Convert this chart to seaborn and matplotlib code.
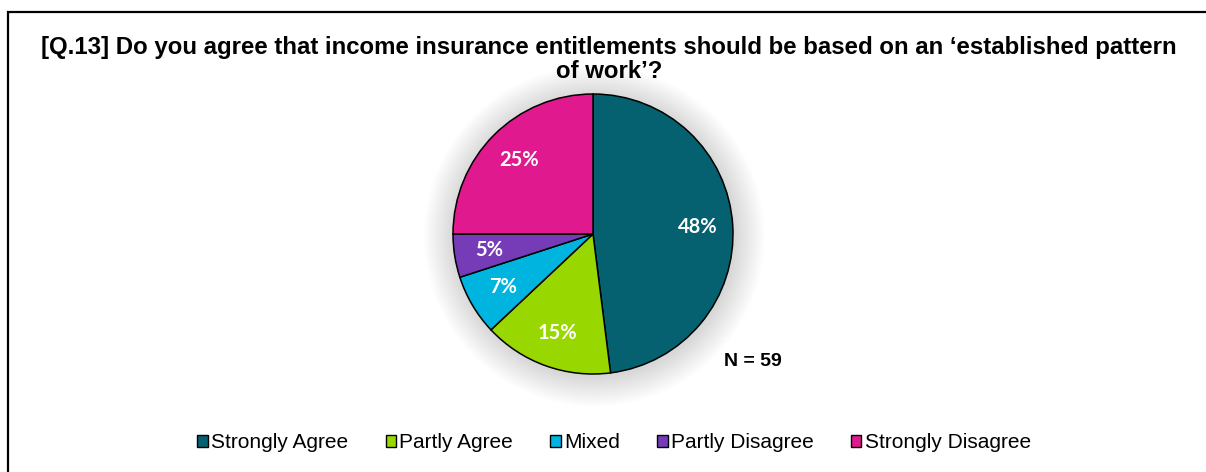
import matplotlib
matplotlib.use("Agg")
import matplotlib.pyplot as plt
from matplotlib.patches import Circle, Rectangle, Patch
import seaborn as sns

# Survey responses (percent of respondents)
categories = ["Strongly Agree", "Partly Agree", "Mixed", "Partly Disagree", "Strongly Disagree"]
shares = [48, 15, 7, 5, 25]
colors = ["#05606F", "#99D700", "#00B4E0", "#763CB8", "#E0198F"]
title = "[Q.13] Do you agree that income insurance entitlements should be based on an \u2018established pattern\nof work\u2019?"
sample_note = "N = 59"

sns.set_theme(style="white")
plt.rcParams["font.family"] = ["Liberation Sans", "DejaVu Sans"]
plt.rcParams["text.color"] = "black"
palette = sns.color_palette(colors)

W, H = 1206, 472
fig = plt.figure(figsize=(W / 100, H / 100), dpi=100)
fig.patch.set_facecolor("white")

# Outer chart frame (runs off the right and bottom edges)
fig.patches.append(Rectangle((8 / W, -0.05), 1.2, (H - 12) / H + 0.05,
                             transform=fig.transFigure, fill=False,
                             edgecolor="black", linewidth=1.6))

# Pie axes: center (593, 234) px, radius 140 px
cx, cy, r, half = 593, H - 234, 140, 190
ax = fig.add_axes([(cx - half) / W, (cy - half) / H, 2 * half / W, 2 * half / H])
lim = half / r

# Soft glow behind the pie
n = 40
for i in range(n):
    rad = 1.0 + 0.22 * (1 - i / n)
    ax.add_patch(Circle((0.01, -0.015), rad, facecolor="black",
                        edgecolor="none", alpha=0.0055, zorder=0))

wedges, _, autotexts = ax.pie(
    shares, colors=palette, startangle=90, counterclock=False,
    autopct="%.0f%%", pctdistance=0.75, radius=1.0, frame=True,
    wedgeprops=dict(edgecolor="black", linewidth=1.1),
    textprops=dict(color="white", fontsize=14.5, fontweight="bold",
                   family=["Lato", "DejaVu Sans"]))
ax.set_xlim(-lim, lim)
ax.set_ylim(-lim, lim)
ax.set_aspect("equal")
ax.axis("off")

fig.text(609 / W, (H - 36) / H, title, ha="center", va="top",
         multialignment="center", fontsize=17.25, fontweight="bold",
         linespacing=1.05)

fig.text(753 / W, (H - 362) / H, sample_note, ha="center", va="center",
         fontsize=14, fontweight="bold")

handles = [Patch(facecolor=c, edgecolor="black", linewidth=1.0) for c in colors]
fig.legend(handles, categories, loc="center", bbox_to_anchor=(614 / W, 29 / H),
           ncol=5, frameon=False, fontsize=15, handlelength=0.5,
           handleheight=0.5, handletextpad=0.15, columnspacing=1.8)

fig.savefig("out.png", dpi=100, facecolor="white")
